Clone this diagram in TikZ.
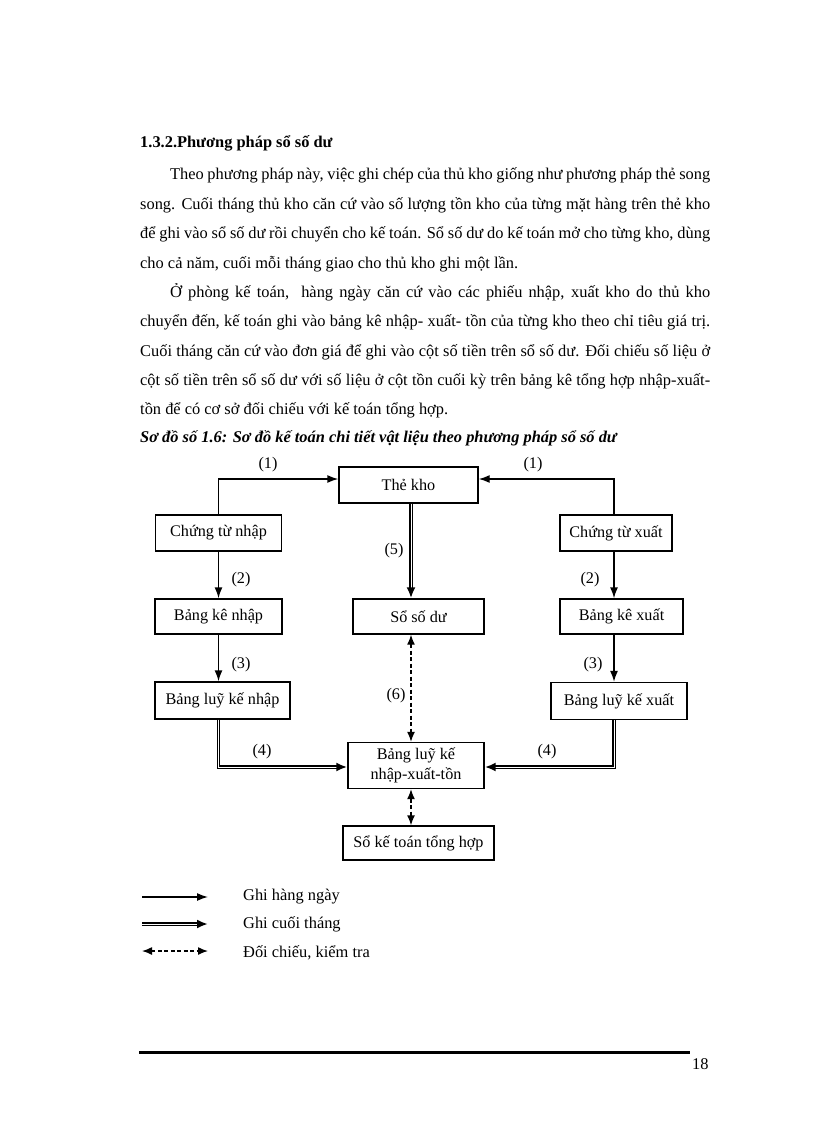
\documentclass[tikz,border=0pt]{standalone}
\usepackage{fontspec}
\setmainfont{Liberation Serif}
\usetikzlibrary{arrows.meta,positioning,decorations.markings}

\newcommand{\bodysize}{\fontsize{16.4}{19.7}\selectfont}
\newcommand{\boxsize}{\fontsize{16.2}{19.5}\selectfont}
\newcommand{\fullline}[1]{\makebox[570pt][s]{#1}}
\newcommand{\indline}[1]{\makebox[540pt][s]{#1}}

\tikzset{
  box/.style={draw, line width=1.4pt, inner sep=0pt, minimum height=36pt, font=\boxsize, align=center},
  tag/.style={inner sep=0pt, font=\boxsize},
  para/.style={anchor=base west, inner sep=0pt, font=\bodysize},
  daily/.style={line width=1.4pt, -{Latex[length=11pt,width=8pt]}},
  monthly/.style={line width=1.5pt, double, double distance=0.9pt, shorten >=8pt,
    postaction={decorate, decoration={markings, mark=at position 1 with {\arrow{Latex[length=11pt,width=9pt]}}}}},
  check/.style={line width=1.4pt, dash pattern=on 4pt off 2.5pt, {Latex[length=10pt,width=8pt]}-{Latex[length=10pt,width=8pt]}}
}

\begin{document}
\begin{tikzpicture}[x=1pt,y=-1pt]
\useasboundingbox (0,0) rectangle (816,1123);

% text above the diagram
\node[para] (head) at (140,148) {\textbf{1.3.2.Phương pháp sổ số dư}};
\node[para] (p1) at (170,180) {\indline{Theo phương pháp này, việc ghi chép của thủ kho giống như phương pháp thẻ song}};
\node[para] (p2) at (140,209.5) {\fullline{song. Cuối tháng thủ kho căn cứ vào số lượng tồn kho của từng mặt hàng trên thẻ kho}};
\node[para] (p3) at (140,239) {\fullline{để ghi vào sổ số dư rồi chuyển cho kế toán. Sổ số dư do kế toán mở cho từng kho, dùng}};
\node[para] (p4) at (140,268) {cho cả năm, cuối mỗi tháng giao cho thủ kho ghi một lần.};
\node[para] (p5) at (170,297) {\indline{Ở phòng kế toán,\ \ hàng ngày căn cứ vào các phiếu nhập, xuất kho do thủ kho}};
\node[para] (p6) at (140,326.5) {\fullline{chuyển đến, kế toán ghi vào bảng kê nhập- xuất- tồn của từng kho theo chỉ tiêu giá trị.}};
\node[para] (p7) at (140,356) {\fullline{Cuối tháng căn cứ vào đơn giá để ghi vào cột số tiền trên sổ số dư. Đối chiếu số liệu ở}};
\node[para] (p8) at (140,385) {\fullline{cột số tiền trên sổ số dư với số liệu ở cột tồn cuối kỳ trên bảng kê tổng hợp nhập-xuất-}};
\node[para] (p9) at (140,414) {tồn để có cơ sở đối chiếu với kế toán tổng hợp.};
\node[para] (cap) at (140,442) {\textbf{\textit{Sơ đồ số 1.6: Sơ đồ kế toán chi tiết vật liệu theo phương pháp sổ số dư}}};

% columns
\coordinate (colL) at (218.5,0);
\coordinate (colM) at (411,0);
\coordinate (colR) at (614,0);

% boxes
\node[box, minimum width=139pt] (theKho) at (408.5,485) {Thẻ kho};
\node[box, minimum width=126pt] (ctNhap) at (218.5,533) {Chứng từ nhập};
\node[box, minimum width=112pt] (ctXuat) at (616,533) {Chứng từ xuất};
\node[box, minimum width=127pt, minimum height=35pt] (bkNhap) at (218.5,616.5) {Bảng kê nhập};
\node[box, minimum width=131pt, minimum height=35pt] (soDu) at (418.5,616.5) {Sổ số dư};
\node[box, minimum width=123pt, minimum height=35pt] (bkXuat) at (621.5,616.5) {Bảng kê xuất};
\node[box, minimum width=135pt, minimum height=37pt] (lkNhap) at (222.5,700.5) {Bảng luỹ kế nhập};
\node[box, minimum width=136pt, minimum height=37pt] (lkXuat) at (619,701) {Bảng luỹ kế xuất};
\node[box, minimum width=136pt, minimum height=46pt] (lkTong) at (416,765.5) {Bảng luỹ kế\\nhập-xuất-tồn};
\node[box, minimum width=151pt, minimum height=34pt] (soTH) at (418.5,843) {Sổ kế toán tổng hợp};

% connectors
\draw[daily] (ctNhap.north) |- ([yshift=6pt]theKho.west);
\draw[daily] (ctXuat.north -| colR) |- ([yshift=6pt]theKho.east);
\draw[daily] (ctNhap.south) -- (bkNhap.north);
\draw[daily] (ctXuat.south -| colR) -- (bkXuat.north -| colR);
\draw[daily] (bkNhap.south) -- (lkNhap.north -| colL);
\draw[daily] (bkXuat.south -| colR) -- (lkXuat.north -| colR);
\draw[monthly] (theKho.south -| colM) -- (soDu.north -| colM);
\draw[monthly] (lkNhap.south -| colL) |- ([yshift=-1.5pt]lkTong.west);
\draw[monthly] (lkXuat.south -| colR) |- ([yshift=-1.5pt]lkTong.east);
\draw[check] (soDu.south -| colM) -- (lkTong.north -| colM);
\draw[check] (lkTong.south -| colM) -- (soTH.north -| colM);

% step numbers
\node[tag] (t1a) at (268,465) {(1)};
\node[tag] (t1b) at (533,465) {(1)};
\node[tag] (t5) at (394,551) {(5)};
\node[tag] (t2a) at (241,580) {(2)};
\node[tag] (t2b) at (590,580) {(2)};
\node[tag] (t3a) at (241,665) {(3)};
\node[tag] (t3b) at (593,665) {(3)};
\node[tag] (t6) at (396,696) {(6)};
\node[tag] (t4a) at (262,752) {(4)};
\node[tag] (t4b) at (547,752) {(4)};

% legend
\coordinate (lg1s) at (142,897); \coordinate (lg1e) at (208,897);
\coordinate (lg2s) at (142,924); \coordinate (lg2e) at (208,924);
\coordinate (lg3s) at (142,951); \coordinate (lg3e) at (208,951);
\draw[daily] (lg1s) -- (lg1e);
\draw[monthly] (lg2s) -- (lg2e);
\draw[check] (lg3s) -- (lg3e);
\node[anchor=west, inner sep=0pt, font=\bodysize] (lg1) at (243,897) {Ghi hàng ngày};
\node[anchor=west, inner sep=0pt, font=\bodysize] (lg2) at (243,924) {Ghi cuối tháng};
\node[anchor=west, inner sep=0pt, font=\bodysize] (lg3) at (243,953) {Đối chiếu, kiểm tra};

% footer
\coordinate (footL) at (139,1052);
\coordinate (footR) at (690,1052);
\draw[line width=3pt] (footL) -- (footR);
\node[para] (page) at (692,1069) {18};
\end{tikzpicture}
\end{document}
